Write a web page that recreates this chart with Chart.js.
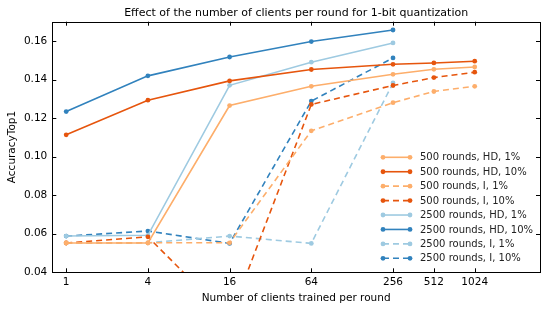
<!DOCTYPE html>
<html><head><meta charset="utf-8">
<style>html,body{margin:0;padding:0;background:#fff}#wrap{width:548px;height:312px}</style>
<script src="https://cdn.jsdelivr.net/npm/chart.js@4/dist/chart.umd.min.js"></script>
</head><body><div id="wrap"><canvas id="c" width="548" height="312"></canvas></div>
<script>
const clients500 = [1, 4, 16, 64, 256, 512, 1024];
const clients2500 = [1, 4, 16, 64, 256];
const xTickValues = [1, 4, 16, 64, 256, 512, 1024];
const yTickValues = [0.04, 0.06, 0.08, 0.10, 0.12, 0.14, 0.16];

const seriesLabels = [
  '500 rounds, HD, 1%', '500 rounds, HD, 10%', '500 rounds, I, 1%', '500 rounds, I, 10%',
  '2500 rounds, HD, 1%', '2500 rounds, HD, 10%', '2500 rounds, I, 1%', '2500 rounds, I, 10%'
];
const r500HD1  = [0.0552, 0.0552, 0.1265, 0.1365, 0.1427, 0.1453, 0.1465];
const r500HD10 = [0.1113, 0.1293, 0.1393, 0.1452, 0.1479, 0.1486, 0.1495];
const r500I1   = [0.0552, 0.0553, 0.0553, 0.1134, 0.1280, 0.1338, 0.1365];
const r500I10  = [0.0552, 0.0584, 0.0160, 0.1271, 0.1369, 0.1410, 0.1438];
const r2500HD1  = [0.0588, 0.0592, 0.1370, 0.1490, 0.1590];
const r2500HD10 = [0.1234, 0.1419, 0.1517, 0.1597, 0.1657];
const r2500I1   = [0.0552, 0.0553, 0.0588, 0.0550, 0.1382];
const r2500I10  = [0.0588, 0.0614, 0.0550, 0.1288, 0.1512];

const colors = ['#fdae6b', '#e6550d', '#fdae6b', '#e6550d', '#9ecae1', '#3182bd', '#9ecae1', '#3182bd'];
const dashed = [false, false, true, true, false, false, true, true];
const seriesValues = [r500HD1, r500HD10, r500I1, r500I10, r2500HD1, r2500HD10, r2500I1, r2500I10];
const seriesX = [clients500, clients500, clients500, clients500, clients2500, clients2500, clients2500, clients2500];

const FONT = 'DejaVu Sans';
const DASH = [6, 4];

const datasets = seriesLabels.map((lab, i) => ({
  label: lab,
  data: seriesValues[i].map((v, k) => ({x: seriesX[i][k], y: v})),
  borderColor: colors[i],
  backgroundColor: colors[i],
  pointBackgroundColor: colors[i],
  pointBorderColor: colors[i],
  borderWidth: 1.6,
  borderDash: dashed[i] ? DASH : [],
  pointRadius: 2.4,
  pointBorderWidth: 0,
  tension: 0,
  fill: false
}));

const framePlugin = {
  id: 'frame',
  afterDatasetsDraw(chart) {
    const {ctx, chartArea: a, scales: {x, y}} = chart;
    ctx.save();
    ctx.strokeStyle = '#000';
    ctx.lineWidth = 1;
    const L = 4;
    ctx.beginPath();
    xTickValues.forEach(v => {
      const px = Math.round(x.getPixelForValue(v)) + 0.5;
      ctx.moveTo(px, a.bottom); ctx.lineTo(px, a.bottom - L);
      ctx.moveTo(px, a.top); ctx.lineTo(px, a.top + L);
    });
    yTickValues.forEach(v => {
      const py = Math.round(y.getPixelForValue(v)) + 0.5;
      ctx.moveTo(a.left, py); ctx.lineTo(a.left + L, py);
      ctx.moveTo(a.right, py); ctx.lineTo(a.right - L, py);
    });
    ctx.stroke();
    ctx.strokeRect(Math.round(a.left) + 0.5, Math.round(a.top) + 0.5,
                   Math.round(a.right) - Math.round(a.left), Math.round(a.bottom) - Math.round(a.top));
    // legend
    const x0 = 383, x1 = 410, tx = 420, y0 = 157.3, dy = 14.43;
    ctx.font = '10px "' + FONT + '"';
    ctx.textBaseline = 'middle';
    ctx.textAlign = 'left';
    chart.data.datasets.forEach((ds, i) => {
      const yy = y0 + i * dy;
      ctx.strokeStyle = ds.borderColor;
      ctx.lineWidth = ds.borderWidth;
      ctx.setLineDash(ds.borderDash);
      ctx.beginPath(); ctx.moveTo(x0, yy); ctx.lineTo(x1, yy); ctx.stroke();
      ctx.setLineDash([]);
      ctx.fillStyle = ds.borderColor;
      [x0, x1].forEach(px => { ctx.beginPath(); ctx.arc(px, yy, ds.pointRadius, 0, Math.PI * 2); ctx.fill(); });
      ctx.fillStyle = '#222';
      ctx.fillText(ds.label, tx, yy + 0.5);
    });
    ctx.restore();
  }
};

new Chart(document.getElementById('c'), {
  type: 'line',
  data: {datasets},
  options: {
    responsive: false,
    animation: false,
    devicePixelRatio: 1,
    layout: {padding: {left: 0, right: 8, top: 0, bottom: 0}},
    plugins: {
      legend: {display: false},
      tooltip: {enabled: false},
      title: {
        display: true,
        fullSize: false,
        text: 'Effect of the number of clients per round for 1-bit quantization',
        color: '#000',
        font: {family: FONT, size: 11, weight: 'normal', lineHeight: 1.2},
        padding: {top: 6.7, bottom: 1.8}
      }
    },
    scales: {
      x: {
        type: 'logarithmic',
        min: 0.79,
        max: 3100,
        afterBuildTicks: s => { s.ticks = xTickValues.map(v => ({value: v})); },
        afterFit: s => { s.height = 39.7; },
        ticks: {
          callback: v => String(v),
          color: '#000',
          font: {family: FONT, size: 10.5},
          padding: 4,
          autoSkip: false,
          maxRotation: 0
        },
        grid: {display: false, drawTicks: false},
        border: {display: false},
        title: {
          display: true,
          text: 'Number of clients trained per round',
          color: '#000',
          font: {family: FONT, size: 10.5, lineHeight: 1.2},
          padding: {top: 0, bottom: 7.4}
        }
      },
      y: {
        type: 'linear',
        min: 0.04,
        max: 0.17,
        afterBuildTicks: s => { s.ticks = yTickValues.map(v => ({value: v})); },
        afterFit: s => { s.width = 52.3; },
        ticks: {
          callback: v => v.toFixed(2),
          color: '#000',
          font: {family: FONT, size: 10.5},
          padding: 5
        },
        grid: {display: false, drawTicks: false},
        border: {display: false},
        title: {
          display: true,
          text: 'AccuracyTop1',
          color: '#000',
          font: {family: FONT, size: 10.5, lineHeight: 1.2},
          padding: {top: 6, bottom: 0}
        }
      }
    }
  },
  plugins: [framePlugin]
});
</script>
</body></html>
